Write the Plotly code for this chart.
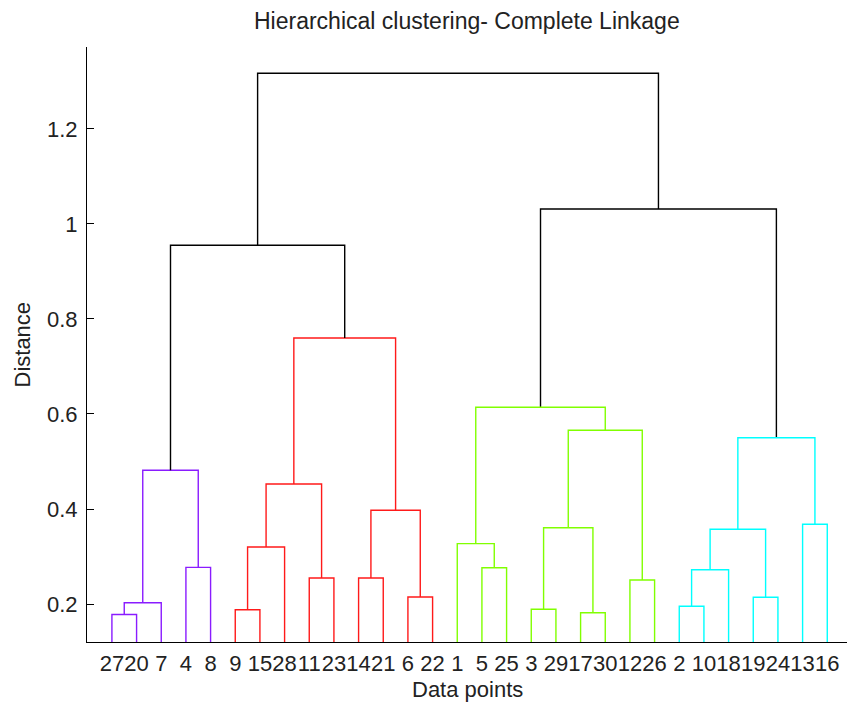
import plotly.graph_objects as go

# ---- data ----
leaf_order = [27, 20, 7, 4, 8, 9, 15, 28, 11, 23, 14, 21, 6, 22,
              1, 5, 25, 3, 29, 17, 30, 12, 26, 2, 10, 18, 19, 24, 13, 16]
# linkage rows: (node_a, node_b, distance); leaves 1..30, cluster k -> 30+k
merge_a = [27, 31, 4, 32, 9, 35, 11, 36, 14, 6, 39, 38, 34,
           5, 1, 3, 17, 46, 12, 48, 45, 2, 52, 19, 53, 13, 55, 51, 43]
merge_b = [20, 7, 8, 33, 15, 28, 23, 37, 21, 22, 40, 41, 42,
           25, 44, 29, 30, 47, 26, 49, 50, 10, 18, 24, 54, 16, 56, 57, 58]
merge_h = [0.178, 0.2027, 0.277, 0.4815, 0.188, 0.320, 0.2547, 0.4526,
           0.2547, 0.2147, 0.3973, 0.760, 0.9552,
           0.2764, 0.327, 0.1888, 0.1817, 0.3606, 0.2505, 0.5657, 0.6141,
           0.1952, 0.2722, 0.2141, 0.3573, 0.3678, 0.5501, 1.0316, 1.3173]
cluster_roots = [34, 42, 51, 57]
cluster_colors = ["#8a1cff", "#ff1a1a", "#80ff00", "#00ffff"]

ytick_vals = [0.2, 0.4, 0.6, 0.8, 1.0, 1.2]
ytick_text = ["0.2", "0.4", "0.6", "0.8", "1", "1.2"]

N = len(leaf_order)
pos = {leaf: i + 1 for i, leaf in enumerate(leaf_order)}
height = {leaf: 0.0 for leaf in leaf_order}
children = {}
for k, (a, b, h) in enumerate(zip(merge_a, merge_b, merge_h)):
    node = N + k + 1
    pos[node] = (pos[a] + pos[b]) / 2
    height[node] = h
    children[node] = (a, b)

color_of = {}
def paint(node, col):
    color_of[node] = col
    if node in children:
        for c in children[node]:
            paint(c, col)
for r, c in zip(cluster_roots, cluster_colors):
    paint(r, c)

segs = {}
for node, (a, b) in children.items():
    col = color_of.get(node, "#000000")
    xs, ys = segs.setdefault(col, ([], []))
    xs += [pos[a], pos[a], pos[b], pos[b], None]
    ys += [height[a], height[node], height[node], height[b], None]

FONT = "Liberation Sans, Arial, sans-serif"
fig = go.Figure()
for col, (xs, ys) in segs.items():
    fig.add_trace(go.Scatter(x=xs, y=ys, mode="lines",
                             line=dict(color=col, width=1.4),
                             hoverinfo="skip", showlegend=False))

fig.update_layout(
    width=847, height=704,
    margin=dict(l=87, r=0, t=47, b=62),
    plot_bgcolor="white", paper_bgcolor="white",
    font=dict(family=FONT, size=22, color="#222222"),
    showlegend=False,
)
fig.update_xaxes(range=[-0.01, 30.8], tickvals=list(range(1, N + 1)),
                 ticktext=[str(v) for v in leaf_order], ticks="",
                 tickangle=0, ticklabelstandoff=2,
                 showgrid=False, zeroline=False, showline=True,
                 linecolor="#000000", linewidth=1,
                 tickfont=dict(size=22, family=FONT, color="#222222"))
fig.update_yaxes(range=[0.12, 1.3726], tickvals=ytick_vals, ticktext=ytick_text,
                 ticks="inside", ticklen=7, tickcolor="#000000",
                 showgrid=False, zeroline=False, showline=True,
                 linecolor="#000000", linewidth=1, ticklabelstandoff=4,
                 tickfont=dict(size=22, family=FONT, color="#222222"))

fig.add_annotation(text="Hierarchical clustering- Complete Linkage",
                   xref="paper", yref="paper", x=0.5, y=1, yshift=26,
                   showarrow=False, xanchor="center", yanchor="middle",
                   font=dict(size=23, family=FONT, color="#222222"))
fig.add_annotation(text="Data points", xref="paper", yref="paper",
                   x=0.5, y=0, yshift=-47, showarrow=False,
                   xanchor="center", yanchor="middle",
                   font=dict(size=22, family=FONT, color="#222222"))
fig.add_annotation(text="Distance", xref="paper", yref="paper",
                   x=0, xshift=-65, y=0.5, textangle=-90, showarrow=False,
                   xanchor="center", yanchor="middle",
                   font=dict(size=22, family=FONT, color="#222222"))

fig.write_html("out.html")
